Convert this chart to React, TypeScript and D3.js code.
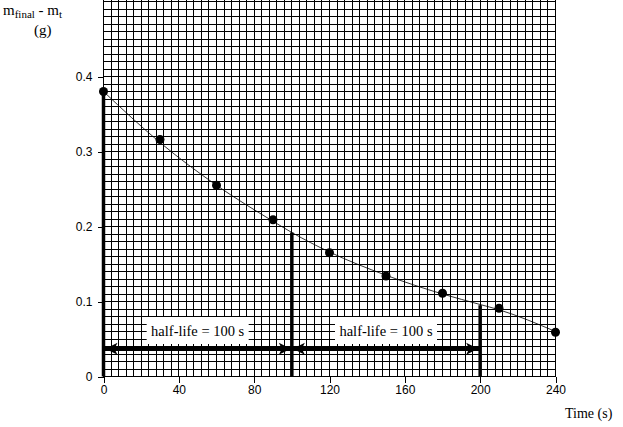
import * as d3 from "d3";
import React, { useRef, useEffect } from "react";

const times = [0, 30, 60, 90, 120, 150, 180, 210, 240];
const masses = [0.38, 0.316, 0.255, 0.209, 0.165, 0.134, 0.111, 0.091, 0.059];

// hand-drawn best-fit curve
const curveTimes = [0, 30, 60, 90, 100, 120, 150, 180, 200, 210, 240];
const curveMasses = [0.38, 0.312, 0.255, 0.207, 0.192, 0.166, 0.135, 0.11, 0.096, 0.089, 0.06];

const xTicks = [0, 40, 80, 120, 160, 200, 240];
const yTicks = [0, 0.1, 0.2, 0.3, 0.4];

// half-life markers
const halfLifeTimes = [0, 100, 200];
const halfLifeMasses = [0.38, 0.192, 0.095];
const arrowLevel = 0.037;
const halfLifeLabel = "half-life = 100 s";

const width = 623;
const height = 427;

function App() {
  const ref = useRef(null);

  useEffect(() => {
    const svg = d3.select(ref.current);
    svg.selectAll("*").remove();

    const x = d3.scaleLinear().domain([0, 240]).range([103.5, 555.5]);
    const y = d3.scaleLinear().domain([0, 0.5]).range([376.5, 1.5]);

    // graph paper
    const grid = svg.append("g")
      .attr("stroke", "#000")
      .attr("stroke-width", 1)
      .attr("shape-rendering", "crispEdges");
    d3.range(0, 241, 4).forEach((t) => {
      grid.append("line")
        .attr("x1", x(t)).attr("x2", x(t))
        .attr("y1", 0).attr("y2", y(0));
    });
    d3.range(0, 51).forEach((i) => {
      grid.append("line")
        .attr("x1", x(0)).attr("x2", x(240))
        .attr("y1", y(i / 100)).attr("y2", y(i / 100));
    });

    // axes
    const xAxis = svg.append("g")
      .attr("transform", `translate(0,${y(0)})`)
      .call(d3.axisBottom(x).tickValues(xTicks).tickSize(6).tickSizeOuter(0).tickPadding(3));
    xAxis.select(".domain").remove();
    xAxis.selectAll("line").attr("stroke", "#000").attr("shape-rendering", "crispEdges");
    xAxis.selectAll("text")
      .attr("font-family", "Liberation Sans, Arial, sans-serif")
      .attr("font-size", 12)
      .attr("fill", "#000");

    const yAxis = svg.append("g")
      .attr("transform", `translate(${x(0)},0)`)
      .call(d3.axisLeft(y).tickValues(yTicks).tickSize(6).tickSizeOuter(0).tickPadding(5)
        .tickFormat((d: any) => (d === 0 ? "0" : d3.format(".1f")(d))));
    yAxis.select(".domain").remove();
    yAxis.selectAll("line").attr("stroke", "#000").attr("shape-rendering", "crispEdges");
    yAxis.selectAll("text")
      .attr("font-family", "Liberation Sans, Arial, sans-serif")
      .attr("font-size", 12)
      .attr("fill", "#000");

    // fitted curve
    const line = d3.line<number>()
      .x((d, i) => x(curveTimes[i]))
      .y((d) => y(d))
      .curve(d3.curveMonotoneX);
    svg.append("path")
      .datum(curveMasses)
      .attr("d", line)
      .attr("fill", "none")
      .attr("stroke", "#000")
      .attr("stroke-width", 0.8);

    // vertical half-life lines
    halfLifeTimes.forEach((t, i) => {
      svg.append("line")
        .attr("x1", x(t)).attr("x2", x(t))
        .attr("y1", y(0)).attr("y2", y(halfLifeMasses[i]))
        .attr("stroke", "#000")
        .attr("stroke-width", 3.5);
    });

    // double arrows
    const ay = y(arrowLevel);
    const head = (tipX: number, dir: number) => {
      svg.append("path")
        .attr("d", `M${tipX},${ay} L${tipX + dir * 12},${ay - 6} L${tipX + dir * 9},${ay} L${tipX + dir * 12},${ay + 6} Z`)
        .attr("fill", "#000");
    };
    svg.append("line")
      .attr("x1", x(0)).attr("x2", x(200))
      .attr("y1", ay).attr("y2", ay)
      .attr("stroke", "#000")
      .attr("stroke-width", 4.5);
    head(x(0) + 2, 1);
    head(x(100) - 1, -1);
    head(x(100) + 1, 1);
    head(x(200) - 2, -1);

    // half-life labels
    [[0, 100], [100, 200]].forEach(([a, b]) => {
      const cx = (x(a) + x(b)) / 2;
      svg.append("rect")
        .attr("x", cx - 51).attr("y", 317)
        .attr("width", 102).attr("height", 27)
        .attr("fill", "#fff");
      svg.append("text")
        .attr("x", cx).attr("y", 336)
        .attr("text-anchor", "middle")
        .attr("font-family", "Liberation Serif, Times New Roman, serif")
        .attr("font-size", 14.5)
        .text(halfLifeLabel);
    });

    // data points
    svg.append("g")
      .selectAll("circle")
      .data(masses)
      .join("circle")
      .attr("cx", (d, i) => x(times[i]))
      .attr("cy", (d) => y(d))
      .attr("r", 4.5)
      .attr("fill", "#000");

    // axis titles
    const yLabel = svg.append("text")
      .attr("x", 3).attr("y", 15)
      .attr("font-family", "Liberation Serif, Times New Roman, serif")
      .attr("font-size", 15);
    yLabel.append("tspan").text("m");
    yLabel.append("tspan").attr("font-size", 11).attr("dy", 3).text("final");
    yLabel.append("tspan").attr("dy", -3).text("  - m");
    yLabel.append("tspan").attr("font-size", 11).attr("dy", 3).text("t");

    svg.append("text")
      .attr("x", 34).attr("y", 35)
      .attr("font-family", "Liberation Serif, Times New Roman, serif")
      .attr("font-size", 15)
      .text("(g)");

    svg.append("text")
      .attr("x", 565).attr("y", 418)
      .attr("font-family", "Liberation Serif, Times New Roman, serif")
      .attr("font-size", 14)
      .text("Time (s)");
  }, []);

  return (
    <svg
      ref={ref}
      width={width}
      height={height}
      style={{ position: "absolute", left: 0, top: 0, background: "#fff" }}
    />
  );
}

export default App;
